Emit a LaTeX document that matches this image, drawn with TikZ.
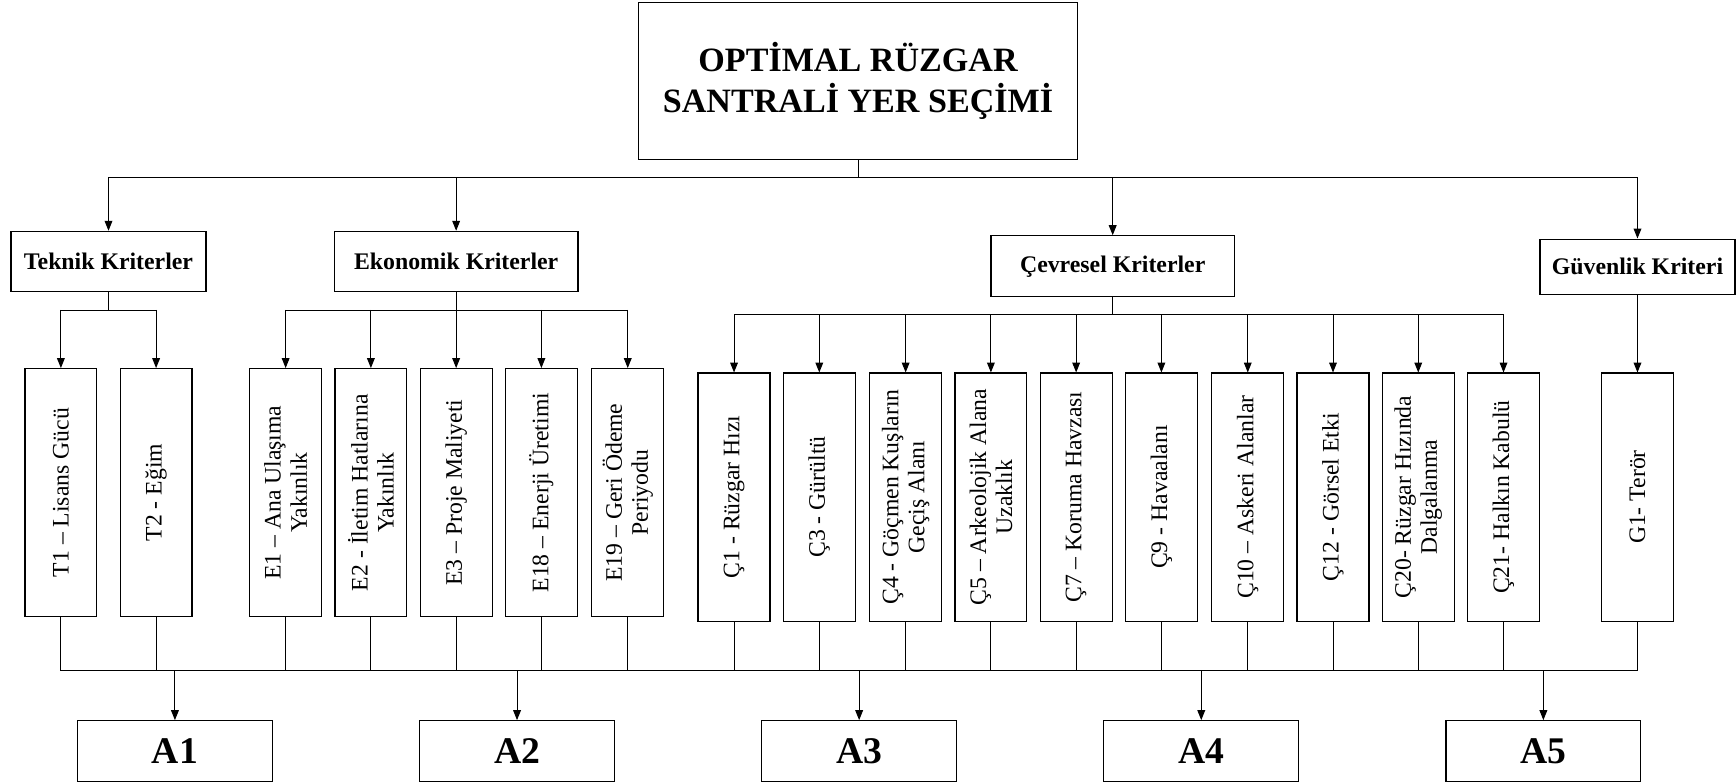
\documentclass[tikz,border=0pt]{standalone}
\usepackage{fontspec}
\setmainfont{Liberation Serif}
\usetikzlibrary{arrows.meta}
\begin{document}
\begin{tikzpicture}[x=1pt,y=-1pt,
  line width=0.9pt,
  arr/.style={-{Triangle[length=9pt,width=7pt]}},
  box/.style={draw,line width=1.1pt,inner sep=0pt,align=center},
  title/.style={box,minimum width=396pt,minimum height=142pt,font=\fontsize{30.8}{37}\selectfont\bfseries},
  head/.style={box,minimum height=54pt,font=\fontsize{21.5}{24}\selectfont\bfseries},
  leaf/.style={box,rotate=90,minimum width=224pt,minimum height=65pt,font=\fontsize{21.4}{23.5}\selectfont},
  alt/.style={box,minimum width=176pt,minimum height=55pt,font=\fontsize{34}{36}\selectfont\bfseries}]
\useasboundingbox (0,0) rectangle (1568,708);
% title
\node[title] (main) at (775,73) {OPTİMAL RÜZGAR\\SANTRALİ YER SEÇİMİ};
% headers
\node[head,minimum width=176pt] (tk) at (98,236) {Teknik Kriterler};
\node[head,minimum width=220pt] (ek) at (412,236) {Ekonomik Kriterler};
\node[head,minimum width=220pt,minimum height=55pt] (cv) at (1005,240.5) {Çevresel Kriterler};
\node[head,minimum width=176pt,minimum height=50pt] (gv) at (1479,241) {Güvenlik Kriteri};
% leaves (rotated: east = top, west = bottom)
\node[leaf] (t1) at (55,445) {T1 – Lisans Gücü};
\node[leaf] (t2) at (141,445) {T2 - Eğim};
\node[leaf] (e1) at (258,445) {E1 – Ana Ulaşıma\\Yakınlık};
\node[leaf] (e2) at (335,445) {E2 - İletim Hatlarına\\Yakınlık};
\node[leaf] (e3) at (412,445) {E3 – Proje Maliyeti};
\node[leaf] (e18) at (489,445) {E18 – Enerji Üretimi};
\node[leaf] (e19) at (567,445) {E19 – Geri Ödeme\\Periyodu};
\node[leaf] (c1) at (663,449) {Ç1 - Rüzgar Hızı};
\node[leaf] (c3) at (740,449) {Ç3 - Gürültü};
\node[leaf] (c4) at (818,449) {Ç4 - Göçmen Kuşların\\Geçiş Alanı};
\node[leaf] (c5) at (895,449) {Ç5 – Arkeolojik Alana\\Uzaklık};
\node[leaf] (c7) at (972,449) {Ç7 – Koruma Havzası};
\node[leaf] (c9) at (1049,449) {Ç9 - Havaalanı};
\node[leaf] (c10) at (1127,449) {Ç10 – Askeri Alanlar};
\node[leaf] (c12) at (1204,449) {Ç12 - Görsel Etki};
\node[leaf] (c20) at (1281,449) {Ç20- Rüzgar Hızında\\Dalgalanma};
\node[leaf] (c21) at (1358,449) {Ç21- Halkın Kabulü};
\node[leaf] (g1) at (1479,449) {G1- Terör};
% alternatives
\node[alt] (a1) at (158,678.5) {A1};
\node[alt] (a2) at (467,678.5) {A2};
\node[alt] (a3) at (776,678.5) {A3};
\node[alt] (a4) at (1085,678.5) {A4};
\node[alt] (a5) at (1394,678.5) {A5};
% bus coordinates
\coordinate (b0) at (775,160);
\coordinate (bt) at (98,280);
\coordinate (be) at (412,280);
\coordinate (bc) at (1005,284);
\coordinate (bb) at (776,606);
% top level
\draw (main.south) -- (b0);
\draw (tk |- b0) -- (gv |- b0);
\foreach \n in {tk,ek,cv,gv} \draw[arr] (\n |- b0) -- (\n.north);
% teknik
\draw (tk.south) -- (bt);
\draw (t1.east |- bt) -- (t2.east |- bt);
\foreach \n in {t1,t2} \draw[arr] (\n.east |- bt) -- (\n.east);
% ekonomik
\draw (ek.south) -- (be);
\draw (e1.east |- be) -- (e19.east |- be);
\foreach \n in {e1,e2,e3,e18,e19} \draw[arr] (\n.east |- be) -- (\n.east);
% cevresel
\draw (cv.south) -- (bc);
\draw (c1.east |- bc) -- (c21.east |- bc);
\foreach \n in {c1,c3,c4,c5,c7,c9,c10,c12,c20,c21} \draw[arr] (\n.east |- bc) -- (\n.east);
% guvenlik
\draw[arr] (gv.south) -- (g1.east);
% bottom bus
\foreach \n in {t1,t2,e1,e2,e3,e18,e19,c1,c3,c4,c5,c7,c9,c10,c12,c20,c21,g1} \draw (\n.west) -- (\n.west |- bb);
\draw (t1.west |- bb) -- (g1.west |- bb);
\foreach \n in {a1,a2,a3,a4,a5} \draw[arr] (\n |- bb) -- (\n.north);
\end{tikzpicture}
\end{document}
